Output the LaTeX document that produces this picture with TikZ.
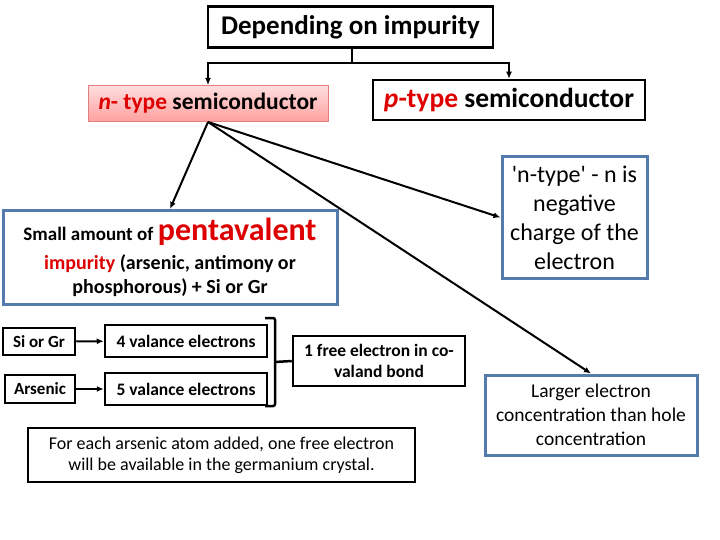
\documentclass[tikz,border=0pt]{standalone}
\usepackage{fontspec}
\setmainfont{Carlito}[Ligatures=TeXOff]
\usetikzlibrary{arrows.meta,positioning,shapes}

\definecolor{nred}{RGB}{222,0,0}
\definecolor{boxblue}{RGB}{84,122,174}
\definecolor{pinktop}{RGB}{255,222,222}
\definecolor{pinkbot}{RGB}{255,160,160}
\definecolor{pinkline}{RGB}{226,128,128}

\newcommand{\fs}[2]{\fontsize{#1}{#2}\selectfont}

\begin{document}
\begin{tikzpicture}[x=1pt,y=-1pt,
    blackbox/.style={draw=black,line width=2.5pt,inner sep=0pt,align=center},
    bluebox/.style={draw=boxblue,line width=3pt,inner sep=0pt,align=center},
    pinkbox/.style={draw=pinkline,line width=1pt,top color=pinktop,bottom color=pinkbot,inner sep=0pt},
    arr/.style={line width=2pt,-{Latex[length=7pt,width=6pt]}}]
    \useasboundingbox (0,0) rectangle (720,540);

    \node[blackbox,minimum width=285pt,minimum height=41pt,font=\bfseries\fs{27}{32}] (depend) at (350.5,27) {Depending on impurity};

    \node[pinkbox,minimum width=240pt,minimum height=36pt,font=\bfseries\fs{23.5}{28}] (ntype) at (208,103.5) {\textcolor{nred}{\textit{n}- type} semiconductor};
    \node[blackbox,minimum width=272pt,minimum height=40pt,font=\bfseries\fs{27.5}{32}] (ptype) at (509,100) {\textcolor{nred}{\textit{p}-type} semiconductor};

    \node[bluebox,minimum width=334pt,minimum height=94pt,font=\bfseries\fs{20}{24}] (penta) at (170,257.5)
        {{\fs{19}{24}Small amount of} \textcolor{nred}{\fs{32}{24}pentavalent}\\[5pt]
         \textcolor{nred}{impurity} (arsenic, antimony or\\ phosphorous) + Si or Gr};
    \node[bluebox,minimum width=145pt,minimum height=122pt,font=\fs{24}{29}] (nneg) at (574.5,217.5)
        {'n-type' - n is\\ negative\\ charge of the\\ electron};
    \node[bluebox,minimum width=212pt,minimum height=80pt,font=\fs{19.5}{24}] (larger) at (591,415)
        {Larger electron\\ concentration than hole\\ concentration};

    \node[blackbox,minimum width=72pt,minimum height=27pt,font=\bfseries\fs{17}{21}] (sigr) at (39,341.5) {Si or Gr};
    \node[blackbox,minimum width=70pt,minimum height=28pt,font=\bfseries\fs{17}{21}] (arsenic) at (40,389) {Arsenic};
    \node[blackbox,minimum width=162pt,minimum height=32pt,font=\bfseries\fs{17.5}{21}] (four) at (186,341) {4 valance electrons};
    \node[blackbox,minimum width=162pt,minimum height=32pt,font=\bfseries\fs{17.5}{21}] (five) at (186,389) {5 valance electrons};
    \node[blackbox,minimum width=172pt,minimum height=50pt,font=\bfseries\fs{17.5}{21}] (free) at (379,361)
        {1 free electron in co-\\ valand bond};
    \node[blackbox,minimum width=387pt,minimum height=54pt,font=\fs{18}{21}] (each) at (221.5,455)
        {For each arsenic atom added, one free electron\\ will be available in the germanium crystal.};

    % top split
    \coordinate (split) at (352,63);
    \draw[line width=2pt] (depend.south -| split) -- (split);
    \draw[arr] (split) -| (ntype.north);
    \draw[arr] (split) -| (ptype.north);

    % from n-type
    \draw[arr] (ntype.south) -- (penta.north);
    \draw[arr] (ntype.south) -- (nneg.west);
    \draw[arr] (ntype.south) -- (larger.north);

    % valance electrons
    \draw[arr] (sigr) -- (four);
    \draw[arr] (arsenic) -- (five);

    % brace
    \coordinate (brace) at (275,362);
    \draw[line width=2.5pt,rounded corners=2pt] (265,318) -- (275,318) -- (brace) -- (275,406) -- (265,406);
    \draw[line width=2.5pt] (brace) -- (free.west);
\end{tikzpicture}
\end{document}
